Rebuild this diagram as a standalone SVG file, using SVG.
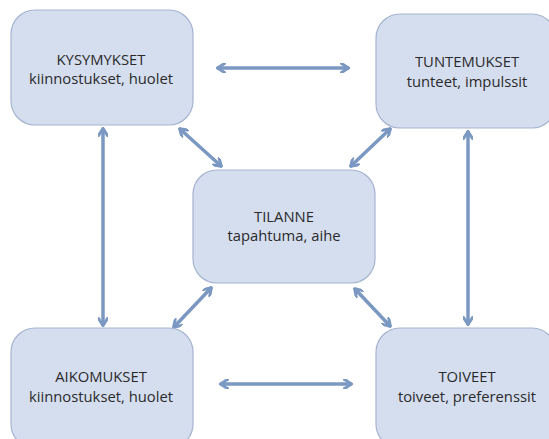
<svg xmlns="http://www.w3.org/2000/svg" width="549" height="439" viewBox="0 0 549 439">
<defs>
<style>
.box{fill:#d5deef;stroke:#a5b4cf;stroke-width:1.2}
.t{font-family:"Open Sans","Noto Sans",sans-serif;font-size:14.8px;fill:#2a2a2a;text-anchor:middle}
.c{stroke:#7b98c3;stroke-width:3.5;fill:none;stroke-linecap:round;marker-start:url(#a);marker-end:url(#a)}
</style>
<marker id="a" viewBox="0 0 10 10" refX="8" refY="5" markerWidth="10" markerHeight="10" markerUnits="userSpaceOnUse" orient="auto-start-reverse">
<path d="M1.5,0.5 L8.5,5 L1.5,9.5" fill="none" stroke="#7b98c3" stroke-width="3" stroke-linecap="round" stroke-linejoin="round"/>
</marker>
</defs>
<rect width="549" height="439" fill="#fff"/>
<g id="connectors">
<line class="c" x1="218" y1="68" x2="348" y2="68"/>
<line class="c" x1="221" y1="384" x2="351" y2="384"/>
<line class="c" x1="103" y1="129" x2="103" y2="325"/>
<line class="c" x1="468" y1="132" x2="468" y2="324"/>
<line class="c" x1="180" y1="129" x2="221" y2="166"/>
<line class="c" x1="390" y1="129" x2="351" y2="166"/>
<line class="c" x1="211" y1="288" x2="174" y2="327"/>
<line class="c" x1="355" y1="289" x2="390" y2="326"/>
</g>
<g id="kysymykset">
<rect class="box" x="11" y="10" width="182" height="115" rx="24"/>
<text class="t" x="101" y="65">KYSYMYKSET</text>
<text class="t" x="101" y="84">kiinnostukset, huolet</text>
</g>
<g id="tuntemukset">
<rect class="box" x="376" y="14" width="180" height="114" rx="24"/>
<text class="t" x="467" y="67">TUNTEMUKSET</text>
<text class="t" x="467" y="87">tunteet, impulssit</text>
</g>
<g id="tilanne">
<rect class="box" x="193" y="170" width="182" height="113" rx="24"/>
<text class="t" x="284" y="222">TILANNE</text>
<text class="t" x="284" y="241">tapahtuma, aihe</text>
</g>
<g id="aikomukset">
<rect class="box" x="11" y="328" width="182" height="120" rx="24"/>
<text class="t" x="101" y="382">AIKOMUKSET</text>
<text class="t" x="101" y="402">kiinnostukset, huolet</text>
</g>
<g id="toiveet">
<rect class="box" x="376" y="328" width="180" height="120" rx="24"/>
<text class="t" x="467" y="382">TOIVEET</text>
<text class="t" x="467" y="402">toiveet, preferenssit</text>
</g>
</svg>
